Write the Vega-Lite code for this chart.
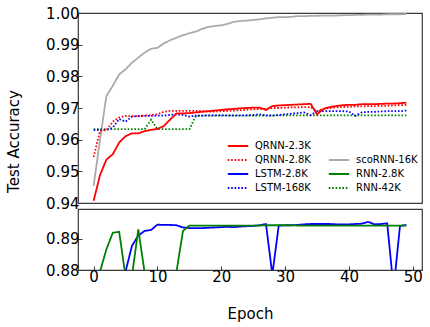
{
"$schema":"https://vega.github.io/schema/vega-lite/v6.json",
"padding":{"left":5,"top":5,"right":5,"bottom":5},
"bounds":"flush",
"config":{
 "font":"DejaVu Sans",
 "view":{"stroke":"#3a3a3a","strokeWidth":1.2},
 "axis":{"grid":false,"domain":false,"tickSize":-4,"tickColor":"#3a3a3a","tickWidth":1,"labelFont":"DejaVu Sans","labelFontSize":15,"labelColor":"#000","labelPadding":3,"titleFont":"DejaVu Sans","titleFontSize":15,"titleFontWeight":"normal","titleColor":"#000"},
 "legend":{"orient":"none","legendX":153,"legendY":126,"columns":2,"symbolType":"M-1.7,0H1.7","symbolSize":144,"symbolStrokeWidth":2,"labelFont":"DejaVu Sans","labelFontSize":10,"labelColor":"#000","labelOffset":10,"columnPadding":13,"rowPadding":2,"padding":0},
 "concat":{"spacing":6}
},
"datasets":{
"top":[
{"e":0,"s":"scoRNN-16K","v":0.9454},{"e":1,"s":"scoRNN-16K","v":0.960},{"e":2,"s":"scoRNN-16K","v":0.9738},{"e":3,"s":"scoRNN-16K","v":0.977},{"e":4,"s":"scoRNN-16K","v":0.9806},{"e":5,"s":"scoRNN-16K","v":0.9822},{"e":6,"s":"scoRNN-16K","v":0.9843},{"e":7,"s":"scoRNN-16K","v":0.9859},{"e":8,"s":"scoRNN-16K","v":0.9875},{"e":9,"s":"scoRNN-16K","v":0.9887},
{"e":10,"s":"scoRNN-16K","v":0.989},{"e":11,"s":"scoRNN-16K","v":0.9904},{"e":12,"s":"scoRNN-16K","v":0.9914},{"e":13,"s":"scoRNN-16K","v":0.9922},{"e":14,"s":"scoRNN-16K","v":0.993},{"e":15,"s":"scoRNN-16K","v":0.9936},{"e":16,"s":"scoRNN-16K","v":0.9941},{"e":17,"s":"scoRNN-16K","v":0.995},{"e":18,"s":"scoRNN-16K","v":0.9956},{"e":19,"s":"scoRNN-16K","v":0.9959},
{"e":20,"s":"scoRNN-16K","v":0.9961},{"e":21,"s":"scoRNN-16K","v":0.9966},{"e":22,"s":"scoRNN-16K","v":0.9972},{"e":23,"s":"scoRNN-16K","v":0.9975},{"e":24,"s":"scoRNN-16K","v":0.9976},{"e":25,"s":"scoRNN-16K","v":0.9978},{"e":26,"s":"scoRNN-16K","v":0.998},{"e":27,"s":"scoRNN-16K","v":0.9983},{"e":28,"s":"scoRNN-16K","v":0.9985},{"e":29,"s":"scoRNN-16K","v":0.9987},
{"e":30,"s":"scoRNN-16K","v":0.9987},{"e":31,"s":"scoRNN-16K","v":0.9988},{"e":32,"s":"scoRNN-16K","v":0.999},{"e":33,"s":"scoRNN-16K","v":0.999},{"e":34,"s":"scoRNN-16K","v":0.9991},{"e":35,"s":"scoRNN-16K","v":0.9991},{"e":36,"s":"scoRNN-16K","v":0.9992},{"e":37,"s":"scoRNN-16K","v":0.9992},{"e":38,"s":"scoRNN-16K","v":0.9992},{"e":39,"s":"scoRNN-16K","v":0.9993},
{"e":40,"s":"scoRNN-16K","v":0.9993},{"e":41,"s":"scoRNN-16K","v":0.9994},{"e":42,"s":"scoRNN-16K","v":0.9994},{"e":43,"s":"scoRNN-16K","v":0.9995},{"e":44,"s":"scoRNN-16K","v":0.9995},{"e":45,"s":"scoRNN-16K","v":0.9995},{"e":46,"s":"scoRNN-16K","v":0.9996},{"e":47,"s":"scoRNN-16K","v":0.9996},{"e":48,"s":"scoRNN-16K","v":0.9996},{"e":49,"s":"scoRNN-16K","v":0.9997},
{"e":0,"s":"RNN-42K","v":0.9633},{"e":1,"s":"RNN-42K","v":0.9633},{"e":2,"s":"RNN-42K","v":0.9633},{"e":3,"s":"RNN-42K","v":0.9633},{"e":4,"s":"RNN-42K","v":0.9633},{"e":5,"s":"RNN-42K","v":0.9633},{"e":6,"s":"RNN-42K","v":0.9633},{"e":7,"s":"RNN-42K","v":0.9633},{"e":8,"s":"RNN-42K","v":0.9633},{"e":9,"s":"RNN-42K","v":0.9663},
{"e":10,"s":"RNN-42K","v":0.9633},{"e":11,"s":"RNN-42K","v":0.9633},{"e":12,"s":"RNN-42K","v":0.9633},{"e":13,"s":"RNN-42K","v":0.9633},{"e":14,"s":"RNN-42K","v":0.9633},{"e":15,"s":"RNN-42K","v":0.9633},{"e":16,"s":"RNN-42K","v":0.9675},{"e":17,"s":"RNN-42K","v":0.9676},{"e":18,"s":"RNN-42K","v":0.9676},{"e":19,"s":"RNN-42K","v":0.9676},
{"e":20,"s":"RNN-42K","v":0.9676},{"e":21,"s":"RNN-42K","v":0.9676},{"e":22,"s":"RNN-42K","v":0.9676},{"e":23,"s":"RNN-42K","v":0.9676},{"e":24,"s":"RNN-42K","v":0.9676},{"e":25,"s":"RNN-42K","v":0.9676},{"e":26,"s":"RNN-42K","v":0.9676},{"e":27,"s":"RNN-42K","v":0.9676},{"e":28,"s":"RNN-42K","v":0.9676},{"e":29,"s":"RNN-42K","v":0.9677},
{"e":30,"s":"RNN-42K","v":0.9677},{"e":31,"s":"RNN-42K","v":0.9677},{"e":32,"s":"RNN-42K","v":0.9677},{"e":33,"s":"RNN-42K","v":0.9677},{"e":34,"s":"RNN-42K","v":0.9677},{"e":35,"s":"RNN-42K","v":0.9677},{"e":36,"s":"RNN-42K","v":0.9677},{"e":37,"s":"RNN-42K","v":0.9677},{"e":38,"s":"RNN-42K","v":0.9677},{"e":39,"s":"RNN-42K","v":0.9677},
{"e":40,"s":"RNN-42K","v":0.9677},{"e":41,"s":"RNN-42K","v":0.9677},{"e":42,"s":"RNN-42K","v":0.9677},{"e":43,"s":"RNN-42K","v":0.9677},{"e":44,"s":"RNN-42K","v":0.9677},{"e":45,"s":"RNN-42K","v":0.9677},{"e":46,"s":"RNN-42K","v":0.9677},{"e":47,"s":"RNN-42K","v":0.9677},{"e":48,"s":"RNN-42K","v":0.9677},{"e":49,"s":"RNN-42K","v":0.9677},
{"e":0,"s":"LSTM-168K","v":0.963},{"e":1,"s":"LSTM-168K","v":0.963},{"e":2,"s":"LSTM-168K","v":0.963},{"e":3,"s":"LSTM-168K","v":0.9638},{"e":4,"s":"LSTM-168K","v":0.9665},{"e":5,"s":"LSTM-168K","v":0.9657},{"e":6,"s":"LSTM-168K","v":0.9673},{"e":7,"s":"LSTM-168K","v":0.9674},{"e":8,"s":"LSTM-168K","v":0.9675},{"e":9,"s":"LSTM-168K","v":0.9675},
{"e":10,"s":"LSTM-168K","v":0.9676},{"e":11,"s":"LSTM-168K","v":0.9676},{"e":12,"s":"LSTM-168K","v":0.9678},{"e":13,"s":"LSTM-168K","v":0.968},{"e":14,"s":"LSTM-168K","v":0.9678},{"e":15,"s":"LSTM-168K","v":0.9673},{"e":16,"s":"LSTM-168K","v":0.9676},{"e":17,"s":"LSTM-168K","v":0.9676},{"e":18,"s":"LSTM-168K","v":0.9677},{"e":19,"s":"LSTM-168K","v":0.9677},
{"e":20,"s":"LSTM-168K","v":0.9677},{"e":21,"s":"LSTM-168K","v":0.9677},{"e":22,"s":"LSTM-168K","v":0.9677},{"e":23,"s":"LSTM-168K","v":0.9677},{"e":24,"s":"LSTM-168K","v":0.9677},{"e":25,"s":"LSTM-168K","v":0.9678},{"e":26,"s":"LSTM-168K","v":0.968},{"e":27,"s":"LSTM-168K","v":0.9677},{"e":28,"s":"LSTM-168K","v":0.9676},{"e":29,"s":"LSTM-168K","v":0.9678},
{"e":30,"s":"LSTM-168K","v":0.968},{"e":31,"s":"LSTM-168K","v":0.9682},{"e":32,"s":"LSTM-168K","v":0.9684},{"e":33,"s":"LSTM-168K","v":0.9686},{"e":34,"s":"LSTM-168K","v":0.9677},{"e":35,"s":"LSTM-168K","v":0.969},{"e":36,"s":"LSTM-168K","v":0.969},{"e":37,"s":"LSTM-168K","v":0.969},{"e":38,"s":"LSTM-168K","v":0.969},{"e":39,"s":"LSTM-168K","v":0.969},
{"e":40,"s":"LSTM-168K","v":0.9689},{"e":41,"s":"LSTM-168K","v":0.9675},{"e":42,"s":"LSTM-168K","v":0.9686},{"e":43,"s":"LSTM-168K","v":0.9688},{"e":44,"s":"LSTM-168K","v":0.9688},{"e":45,"s":"LSTM-168K","v":0.9689},{"e":46,"s":"LSTM-168K","v":0.969},{"e":47,"s":"LSTM-168K","v":0.969},{"e":48,"s":"LSTM-168K","v":0.969},{"e":49,"s":"LSTM-168K","v":0.9692},
{"e":0,"s":"QRNN-2.8K","v":0.9545},{"e":1,"s":"QRNN-2.8K","v":0.9628},{"e":2,"s":"QRNN-2.8K","v":0.963},{"e":3,"s":"QRNN-2.8K","v":0.9657},{"e":4,"s":"QRNN-2.8K","v":0.967},{"e":5,"s":"QRNN-2.8K","v":0.9675},{"e":6,"s":"QRNN-2.8K","v":0.9674},{"e":7,"s":"QRNN-2.8K","v":0.9675},{"e":8,"s":"QRNN-2.8K","v":0.9676},{"e":9,"s":"QRNN-2.8K","v":0.9678},
{"e":10,"s":"QRNN-2.8K","v":0.968},{"e":11,"s":"QRNN-2.8K","v":0.9688},{"e":12,"s":"QRNN-2.8K","v":0.9691},{"e":13,"s":"QRNN-2.8K","v":0.9691},{"e":14,"s":"QRNN-2.8K","v":0.9691},{"e":15,"s":"QRNN-2.8K","v":0.9691},{"e":16,"s":"QRNN-2.8K","v":0.9691},{"e":17,"s":"QRNN-2.8K","v":0.969},{"e":18,"s":"QRNN-2.8K","v":0.9689},{"e":19,"s":"QRNN-2.8K","v":0.9689},
{"e":20,"s":"QRNN-2.8K","v":0.969},{"e":21,"s":"QRNN-2.8K","v":0.9691},{"e":22,"s":"QRNN-2.8K","v":0.9692},{"e":23,"s":"QRNN-2.8K","v":0.9693},{"e":24,"s":"QRNN-2.8K","v":0.9695},{"e":25,"s":"QRNN-2.8K","v":0.9696},{"e":26,"s":"QRNN-2.8K","v":0.9697},{"e":27,"s":"QRNN-2.8K","v":0.9697},{"e":28,"s":"QRNN-2.8K","v":0.97},{"e":29,"s":"QRNN-2.8K","v":0.97},
{"e":30,"s":"QRNN-2.8K","v":0.9701},{"e":31,"s":"QRNN-2.8K","v":0.9702},{"e":32,"s":"QRNN-2.8K","v":0.9702},{"e":33,"s":"QRNN-2.8K","v":0.9703},{"e":34,"s":"QRNN-2.8K","v":0.9703},{"e":35,"s":"QRNN-2.8K","v":0.969},{"e":36,"s":"QRNN-2.8K","v":0.9697},{"e":37,"s":"QRNN-2.8K","v":0.97},{"e":38,"s":"QRNN-2.8K","v":0.9702},{"e":39,"s":"QRNN-2.8K","v":0.9703},
{"e":40,"s":"QRNN-2.8K","v":0.9704},{"e":41,"s":"QRNN-2.8K","v":0.9705},{"e":42,"s":"QRNN-2.8K","v":0.9705},{"e":43,"s":"QRNN-2.8K","v":0.9706},{"e":44,"s":"QRNN-2.8K","v":0.9706},{"e":45,"s":"QRNN-2.8K","v":0.9707},{"e":46,"s":"QRNN-2.8K","v":0.9707},{"e":47,"s":"QRNN-2.8K","v":0.9708},{"e":48,"s":"QRNN-2.8K","v":0.9709},{"e":49,"s":"QRNN-2.8K","v":0.971},
{"e":0,"s":"QRNN-2.3K","v":0.9407},{"e":1,"s":"QRNN-2.3K","v":0.9488},{"e":2,"s":"QRNN-2.3K","v":0.9537},{"e":3,"s":"QRNN-2.3K","v":0.9554},{"e":4,"s":"QRNN-2.3K","v":0.9591},{"e":5,"s":"QRNN-2.3K","v":0.9611},{"e":6,"s":"QRNN-2.3K","v":0.962},{"e":7,"s":"QRNN-2.3K","v":0.962},{"e":8,"s":"QRNN-2.3K","v":0.9627},{"e":9,"s":"QRNN-2.3K","v":0.9631},
{"e":10,"s":"QRNN-2.3K","v":0.9634},{"e":11,"s":"QRNN-2.3K","v":0.9643},{"e":12,"s":"QRNN-2.3K","v":0.9664},{"e":13,"s":"QRNN-2.3K","v":0.9683},{"e":14,"s":"QRNN-2.3K","v":0.9683},{"e":15,"s":"QRNN-2.3K","v":0.9684},{"e":16,"s":"QRNN-2.3K","v":0.9686},{"e":17,"s":"QRNN-2.3K","v":0.9688},{"e":18,"s":"QRNN-2.3K","v":0.969},{"e":19,"s":"QRNN-2.3K","v":0.9692},
{"e":20,"s":"QRNN-2.3K","v":0.9694},{"e":21,"s":"QRNN-2.3K","v":0.9696},{"e":22,"s":"QRNN-2.3K","v":0.9697},{"e":23,"s":"QRNN-2.3K","v":0.9699},{"e":24,"s":"QRNN-2.3K","v":0.97},{"e":25,"s":"QRNN-2.3K","v":0.9701},{"e":26,"s":"QRNN-2.3K","v":0.9701},{"e":27,"s":"QRNN-2.3K","v":0.9694},{"e":28,"s":"QRNN-2.3K","v":0.9706},{"e":29,"s":"QRNN-2.3K","v":0.9708},
{"e":30,"s":"QRNN-2.3K","v":0.9709},{"e":31,"s":"QRNN-2.3K","v":0.971},{"e":32,"s":"QRNN-2.3K","v":0.9711},{"e":33,"s":"QRNN-2.3K","v":0.9712},{"e":34,"s":"QRNN-2.3K","v":0.9713},{"e":35,"s":"QRNN-2.3K","v":0.968},{"e":36,"s":"QRNN-2.3K","v":0.9697},{"e":37,"s":"QRNN-2.3K","v":0.9703},{"e":38,"s":"QRNN-2.3K","v":0.9706},{"e":39,"s":"QRNN-2.3K","v":0.9709},
{"e":40,"s":"QRNN-2.3K","v":0.971},{"e":41,"s":"QRNN-2.3K","v":0.971},{"e":42,"s":"QRNN-2.3K","v":0.9712},{"e":43,"s":"QRNN-2.3K","v":0.9712},{"e":44,"s":"QRNN-2.3K","v":0.9712},{"e":45,"s":"QRNN-2.3K","v":0.9713},{"e":46,"s":"QRNN-2.3K","v":0.9714},{"e":47,"s":"QRNN-2.3K","v":0.9714},{"e":48,"s":"QRNN-2.3K","v":0.9715},{"e":49,"s":"QRNN-2.3K","v":0.9717}
],
"bottom":[
{"e":0,"s":"LSTM-2.8K","v":0.87},{"e":1,"s":"LSTM-2.8K","v":0.87},{"e":2,"s":"LSTM-2.8K","v":0.87},{"e":3,"s":"LSTM-2.8K","v":0.87},{"e":4,"s":"LSTM-2.8K","v":0.87},{"e":5,"s":"LSTM-2.8K","v":0.8795},{"e":6,"s":"LSTM-2.8K","v":0.8877},{"e":7,"s":"LSTM-2.8K","v":0.891},{"e":8,"s":"LSTM-2.8K","v":0.8925},{"e":9,"s":"LSTM-2.8K","v":0.8928},
{"e":10,"s":"LSTM-2.8K","v":0.8945},{"e":11,"s":"LSTM-2.8K","v":0.8944},{"e":12,"s":"LSTM-2.8K","v":0.8944},{"e":13,"s":"LSTM-2.8K","v":0.8943},{"e":14,"s":"LSTM-2.8K","v":0.8936},{"e":15,"s":"LSTM-2.8K","v":0.8934},{"e":16,"s":"LSTM-2.8K","v":0.8934},{"e":17,"s":"LSTM-2.8K","v":0.8934},{"e":18,"s":"LSTM-2.8K","v":0.8935},{"e":19,"s":"LSTM-2.8K","v":0.8936},
{"e":20,"s":"LSTM-2.8K","v":0.8937},{"e":21,"s":"LSTM-2.8K","v":0.8938},{"e":22,"s":"LSTM-2.8K","v":0.8937},{"e":23,"s":"LSTM-2.8K","v":0.8939},{"e":24,"s":"LSTM-2.8K","v":0.894},{"e":25,"s":"LSTM-2.8K","v":0.8941},{"e":26,"s":"LSTM-2.8K","v":0.8943},{"e":27,"s":"LSTM-2.8K","v":0.8947},{"e":28,"s":"LSTM-2.8K","v":0.8785},{"e":29,"s":"LSTM-2.8K","v":0.8942},
{"e":30,"s":"LSTM-2.8K","v":0.8943},{"e":31,"s":"LSTM-2.8K","v":0.8943},{"e":32,"s":"LSTM-2.8K","v":0.8944},{"e":33,"s":"LSTM-2.8K","v":0.8946},{"e":34,"s":"LSTM-2.8K","v":0.8947},{"e":35,"s":"LSTM-2.8K","v":0.8947},{"e":36,"s":"LSTM-2.8K","v":0.8947},{"e":37,"s":"LSTM-2.8K","v":0.8947},{"e":38,"s":"LSTM-2.8K","v":0.8946},{"e":39,"s":"LSTM-2.8K","v":0.8946},
{"e":40,"s":"LSTM-2.8K","v":0.8946},{"e":41,"s":"LSTM-2.8K","v":0.8947},{"e":42,"s":"LSTM-2.8K","v":0.8948},{"e":43,"s":"LSTM-2.8K","v":0.8954},{"e":44,"s":"LSTM-2.8K","v":0.8946},{"e":45,"s":"LSTM-2.8K","v":0.8947},{"e":46,"s":"LSTM-2.8K","v":0.8949},{"e":47,"s":"LSTM-2.8K","v":0.874},{"e":48,"s":"LSTM-2.8K","v":0.8941},{"e":49,"s":"LSTM-2.8K","v":0.8944},
{"e":0,"s":"RNN-2.8K","v":0.87},{"e":1,"s":"RNN-2.8K","v":0.8795},{"e":2,"s":"RNN-2.8K","v":0.8866},{"e":3,"s":"RNN-2.8K","v":0.8919},{"e":4,"s":"RNN-2.8K","v":0.8922},{"e":5,"s":"RNN-2.8K","v":0.878},{"e":6,"s":"RNN-2.8K","v":0.878},{"e":7,"s":"RNN-2.8K","v":0.893},{"e":8,"s":"RNN-2.8K","v":0.879},{"e":9,"s":"RNN-2.8K","v":0.875},
{"e":10,"s":"RNN-2.8K","v":0.875},{"e":11,"s":"RNN-2.8K","v":0.875},{"e":12,"s":"RNN-2.8K","v":0.875},{"e":13,"s":"RNN-2.8K","v":0.8797},{"e":14,"s":"RNN-2.8K","v":0.8925},{"e":15,"s":"RNN-2.8K","v":0.8942},{"e":16,"s":"RNN-2.8K","v":0.8942},{"e":17,"s":"RNN-2.8K","v":0.8942},{"e":18,"s":"RNN-2.8K","v":0.8942},{"e":19,"s":"RNN-2.8K","v":0.8942},
{"e":20,"s":"RNN-2.8K","v":0.8942},{"e":21,"s":"RNN-2.8K","v":0.8942},{"e":22,"s":"RNN-2.8K","v":0.8942},{"e":23,"s":"RNN-2.8K","v":0.8942},{"e":24,"s":"RNN-2.8K","v":0.8942},{"e":25,"s":"RNN-2.8K","v":0.8942},{"e":26,"s":"RNN-2.8K","v":0.8942},{"e":27,"s":"RNN-2.8K","v":0.8943},{"e":28,"s":"RNN-2.8K","v":0.8943},{"e":29,"s":"RNN-2.8K","v":0.8943},
{"e":30,"s":"RNN-2.8K","v":0.8943},{"e":31,"s":"RNN-2.8K","v":0.8943},{"e":32,"s":"RNN-2.8K","v":0.8942},{"e":33,"s":"RNN-2.8K","v":0.8942},{"e":34,"s":"RNN-2.8K","v":0.8942},{"e":35,"s":"RNN-2.8K","v":0.8942},{"e":36,"s":"RNN-2.8K","v":0.8942},{"e":37,"s":"RNN-2.8K","v":0.8942},{"e":38,"s":"RNN-2.8K","v":0.8942},{"e":39,"s":"RNN-2.8K","v":0.8942},
{"e":40,"s":"RNN-2.8K","v":0.8942},{"e":41,"s":"RNN-2.8K","v":0.8942},{"e":42,"s":"RNN-2.8K","v":0.8942},{"e":43,"s":"RNN-2.8K","v":0.8942},{"e":44,"s":"RNN-2.8K","v":0.8942},{"e":45,"s":"RNN-2.8K","v":0.8942},{"e":46,"s":"RNN-2.8K","v":0.8942},{"e":47,"s":"RNN-2.8K","v":0.8942},{"e":48,"s":"RNN-2.8K","v":0.8942},{"e":49,"s":"RNN-2.8K","v":0.8942}
]
},
"vconcat":[
{"width":344,"height":190,"data":{"name":"top"},
 "mark":{"type":"line","clip":true,"strokeWidth":1.8},
 "encoding":{
  "x":{"field":"e","type":"quantitative","scale":{"domain":[-2.45,51.45],"nice":false,"zero":false},"axis":null},
  "y":{"field":"v","type":"quantitative","scale":{"domain":[0.94,1.0],"nice":false,"zero":false},"axis":{"values":[0.94,0.95,0.96,0.97,0.98,0.99,1.0],"format":".2f","title":"Test Accuracy","titleX":-65,"titleY":128,"titleAngle":270,"titleAlign":"center","titleBaseline":"middle"}},
  "color":{"field":"s","type":"nominal","title":null,"scale":{"domain":["QRNN-2.3K","QRNN-2.8K","LSTM-2.8K","LSTM-168K"," ","scoRNN-16K","RNN-2.8K","RNN-42K"],"range":["#ff0000","#ff0000","#0000ff","#0000ff","transparent","#aaaaaa","#008000","#008000"]}},
  "strokeDash":{"field":"s","type":"nominal","title":null,"scale":{"domain":["QRNN-2.3K","QRNN-2.8K","LSTM-2.8K","LSTM-168K"," ","scoRNN-16K","RNN-2.8K","RNN-42K"],"range":[[1,0],[1.6,1.8],[1,0],[1.6,1.8],[1,0],[1,0],[1,0],[1.6,1.8]]}}
 }},
{"width":344,"height":61,"data":{"name":"bottom"},
 "mark":{"type":"line","clip":true,"strokeWidth":1.8},
 "encoding":{
  "x":{"field":"e","type":"quantitative","scale":{"domain":[-2.45,51.45],"nice":false,"zero":false},"axis":{"values":[0,10,20,30,40,50],"format":"d","title":"Epoch","titleY":43,"titleBaseline":"middle"}},
  "y":{"field":"v","type":"quantitative","scale":{"domain":[0.88,0.8995],"nice":false,"zero":false},"axis":{"values":[0.88,0.89],"format":".2f","title":null}},
  "color":{"field":"s","type":"nominal","title":null},
  "strokeDash":{"field":"s","type":"nominal","title":null}
 }}
],
"resolve":{"scale":{"color":"shared","strokeDash":"shared","x":"independent","y":"independent"}}
}
